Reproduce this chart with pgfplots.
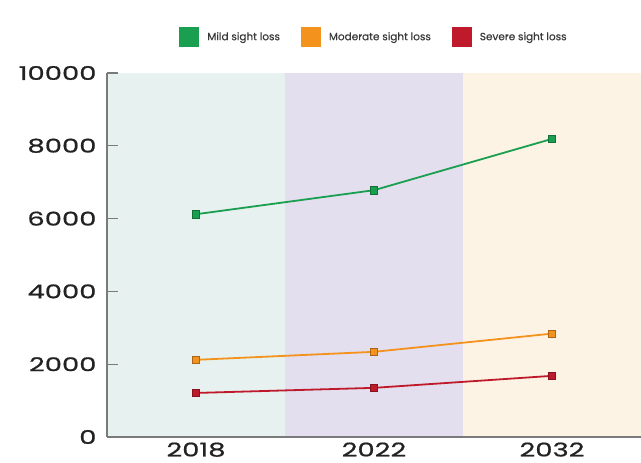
\documentclass[border=0pt]{standalone}
\usepackage{fontspec}
\setmainfont{Poppins}
\newfontfamily\tickfont[FakeStretch=1.45, FakeBold=0.8]{Poppins}
\newfontfamily\legfont[FakeBold=0.4]{Poppins}
\usepackage{pgfplots}
\pgfplotsset{compat=1.18}
\definecolor{mild}{HTML}{1A9E4F}
\definecolor{moder}{HTML}{F4921E}
\definecolor{severe}{HTML}{BE1A2C}
\definecolor{bandA}{HTML}{E7F1EF}
\definecolor{bandB}{HTML}{E3DFEE}
\definecolor{bandC}{HTML}{FDF3E4}
\definecolor{axgray}{HTML}{7A7A7A}
\definecolor{txt}{HTML}{222222}
\pgfplotstableread{
x mild moder severe
0 6120 2120 1210
1 6780 2340 1350
2 8190 2840 1680
}\datatab
\begin{document}
\begin{tikzpicture}
\path[use as bounding box] (-196bp,-26bp) rectangle (445bp,437bp);
\begin{axis}[
  scale only axis,
  width=534bp, height=364bp,
  at={(0,0)}, anchor=origin,
  xmin=-0.5, xmax=2.5,
  ymin=0, ymax=10000,
  axis on top,
  axis x line=bottom, axis y line=left,
  axis line style={draw=axgray, line width=1.2bp, -},
  clip=false,
  xtick={0,1,2},
  xticklabels={2018,2022,2032},
  x tick style={draw=none},
  extra x ticks={0.5,1.5},
  extra x tick labels={},
  extra x tick style={tick align=inside, major tick length=7bp, tick style={draw=axgray, line width=1.2bp}},
  ytick={0,2000,4000,6000,8000,10000},
  y tick style={draw=axgray, line width=1.2bp},
  tick align=inside,
  major tick length=11bp,
  scaled y ticks=false,
  /pgf/number format/assume math mode=true,
  yticklabel={\pgfmathprintnumber[fixed,precision=0,1000 sep={}]{\tick}},
  ticklabel style={font=\tickfont\fontsize{19}{19}\selectfont, text=txt},
  yticklabel style={xshift=-7bp},
  xticklabel style={yshift=-2bp},
  legend style={draw=none, fill=none, at={(0.5,1.099)}, anchor=center,
    font=\legfont\fontsize{10.5}{12}\selectfont, text=txt!90, legend columns=3,
    /tikz/every odd column/.append style={column sep=6bp},
    /tikz/every even column/.append style={column sep=19bp}},
  legend cell align=left,
  legend image code/.code={\fill[#1] (0bp,-10bp) rectangle (20bp,10bp);},
]
\addplot[fill=bandA, draw=none, forget plot] coordinates {(-0.5,0) (0.5,0) (0.5,10000) (-0.5,10000)} -- cycle;
\addplot[fill=bandB, draw=none, forget plot] coordinates {(0.5,0) (1.5,0) (1.5,10000) (0.5,10000)} -- cycle;
\addplot[fill=bandC, draw=none, forget plot] coordinates {(1.5,0) (2.5,0) (2.5,10000) (1.5,10000)} -- cycle;
\addplot[color=mild, line width=1.8bp, mark=square*, mark size=3.6bp, mark options={draw=mild!70!black, line width=0.5bp, fill=mild}, forget plot] table[x=x,y=mild] {\datatab};
\addplot[color=moder, line width=1.8bp, mark=square*, mark size=3.6bp, mark options={draw=moder!70!black, line width=0.5bp, fill=moder}, forget plot] table[x=x,y=moder] {\datatab};
\addplot[color=severe, line width=1.8bp, mark=square*, mark size=3.6bp, mark options={draw=severe!70!black, line width=0.5bp, fill=severe}, forget plot] table[x=x,y=severe] {\datatab};
\addlegendimage{fill=mild, draw=none}
\addlegendentry{Mild sight loss}
\addlegendimage{fill=moder, draw=none}
\addlegendentry{Moderate sight loss}
\addlegendimage{fill=severe, draw=none}
\addlegendentry{Severe sight loss}
\end{axis}
\end{tikzpicture}
\end{document}
